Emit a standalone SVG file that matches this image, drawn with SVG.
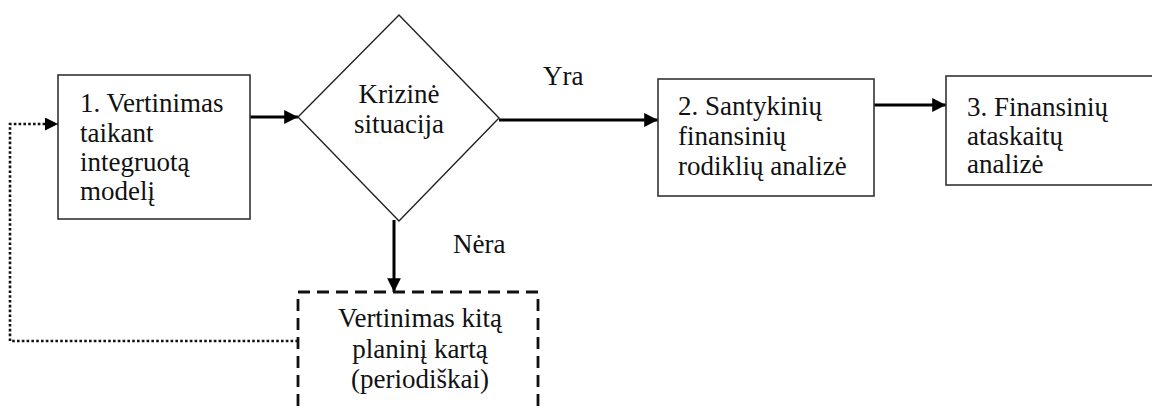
<svg xmlns="http://www.w3.org/2000/svg" width="1152" height="410" viewBox="0 0 1152 410">
<style>
text{font-family:"Liberation Serif","Times New Roman",serif;font-size:27px;fill:#111}
.box{fill:#fff;stroke:#333;stroke-width:1.6}
.dash{fill:#fff;stroke:#111;stroke-width:2.8;stroke-dasharray:12 7}
.arr{fill:none;stroke:#000;stroke-width:3}
.dot{fill:none;stroke:#111;stroke-width:2.6;stroke-dasharray:2.6 2.2}
.c{text-anchor:middle}
</style>
<defs>
<marker id="ah" viewBox="0 0 10 10" refX="10" refY="5" markerWidth="5.5" markerHeight="4.6" markerUnits="strokeWidth" orient="auto">
<path d="M0,0 L10,5 L0,10 z" fill="#000"/>
</marker>
<marker id="ahd" viewBox="0 0 10 10" refX="10" refY="5" markerWidth="6.5" markerHeight="5" markerUnits="strokeWidth" orient="auto">
<path d="M0,0 L10,5 L0,10 z" fill="#000"/>
</marker>
</defs>
<g id="connectors">
<line class="arr" x1="250" y1="117" x2="298" y2="117" marker-end="url(#ah)"/>
<line class="arr" x1="499" y1="120" x2="658" y2="120" marker-end="url(#ah)"/>
<line class="arr" x1="874" y1="105" x2="946" y2="105" marker-end="url(#ah)"/>
<line class="arr" x1="394" y1="220" x2="394" y2="292" marker-end="url(#ah)"/>
<polyline class="dot" points="298,341 10,341 10,124 58,124" marker-end="url(#ahd)"/>
<text x="543" y="85">Yra</text>
<text x="453" y="253">Nėra</text>
</g>
<g id="n1">
<rect class="box" x="58" y="75" width="192" height="144"/>
<text x="80" y="112">1. Vertinimas</text>
<text x="80" y="142">taikant</text>
<text x="80" y="171">integruotą</text>
<text x="80" y="200">modelį</text>
</g>
<g id="n2">
<polygon class="box" points="399,15 499,118 399,221 298,117" style="stroke:#222;stroke-width:1.4"/>
<text class="c" x="399" y="103">Krizinė</text>
<text class="c" x="399" y="133">situacija</text>
</g>
<g id="n3">
<rect class="box" x="658" y="79" width="216" height="117"/>
<text x="678" y="115">2. Santykinių</text>
<text x="678" y="145">finansinių</text>
<text x="678" y="175">rodiklių analizė</text>
</g>
<g id="n4">
<rect class="box" x="946" y="76" width="220" height="109"/>
<text x="967" y="116">3. Finansinių</text>
<text x="967" y="145">ataskaitų</text>
<text x="967" y="173">analizė</text>
</g>
<g id="n5">
<rect class="dash" x="298" y="292" width="240" height="140"/>
<text class="c" x="420" y="327">Vertinimas kitą</text>
<text class="c" x="420" y="358">planinį kartą</text>
<text class="c" x="420" y="388">(periodiškai)</text>
</g>
</svg>
